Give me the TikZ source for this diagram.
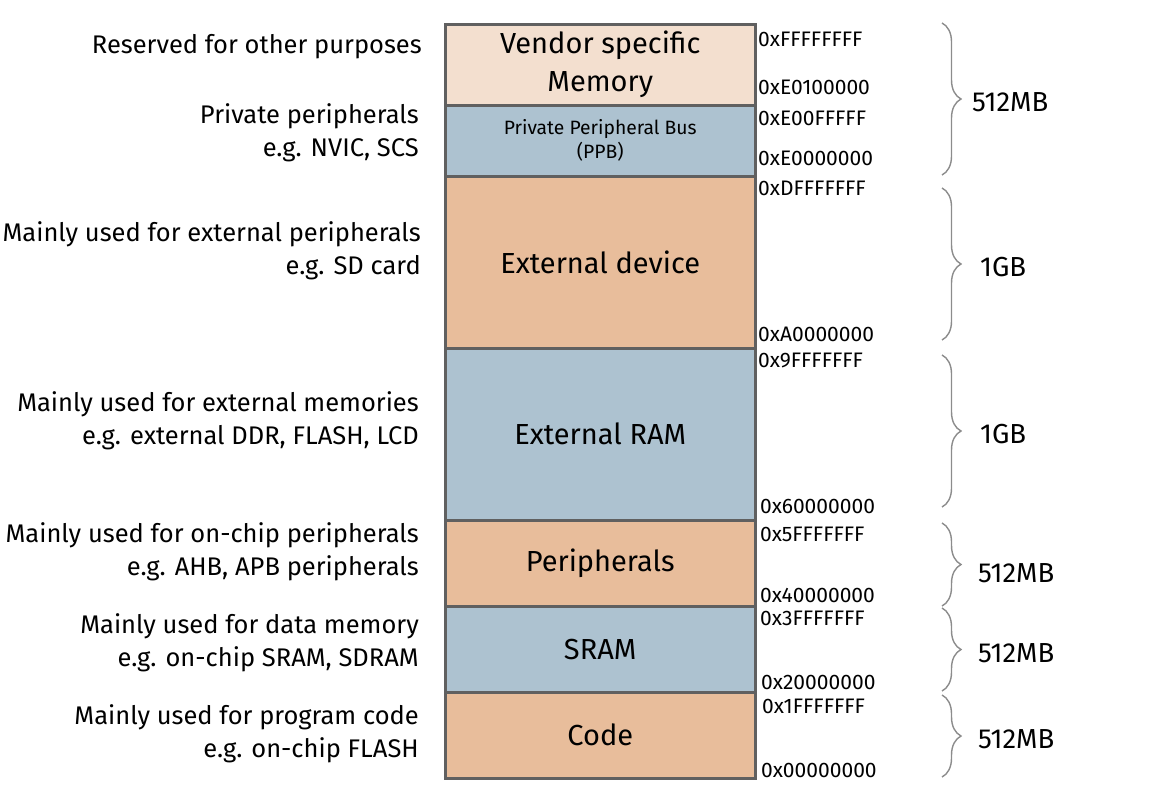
\documentclass[tikz,border=0pt]{standalone}
\usepackage{fontspec}
\setmainfont{Fira Sans}
\usetikzlibrary{decorations.pathreplacing}
\definecolor{peachL}{HTML}{F3DFCF}
\definecolor{peach}{HTML}{E8BD9B}
\definecolor{bluegray}{HTML}{ADC2D0}
\definecolor{border}{HTML}{606060}
\definecolor{bracec}{HTML}{8C8C8C}
\tikzset{
  blk/.style={draw=border, line width=2.5pt, minimum width=310pt, anchor=north west, align=center, inner sep=0pt, font=\fontsize{29}{38}\selectfont},
  addr/.style={anchor=west, inner sep=0pt, font=\fontsize{21}{24}\selectfont},
  desc/.style={anchor=east, align=right, inner sep=0pt, font=\fontsize{25.5}{33}\selectfont},
  sz/.style={anchor=west, inner sep=0pt, font=\fontsize{27.5}{30}\selectfont},
  brc/.style={draw=bracec, line width=1.4pt, decorate, decoration={brace, amplitude=19pt}},
}
\begin{document}
\begin{tikzpicture}[x=1pt,y=-1pt]
\useasboundingbox (0,0) rectangle (1155,809);
% blocks
\node[blk, fill=peachL, minimum height=81pt] (vendor) at (444,23) {Vendor specific\\Memory};
\node[blk, fill=bluegray, minimum height=71pt, font=\fontsize{19.3}{24}\selectfont] (ppb) at (444,104) {Private Peripheral Bus\\(PPB)};
\node[blk, fill=peach, minimum height=172pt] (extdev) at (444,175) {External device};
\node[blk, fill=bluegray, minimum height=172pt] (extram) at (444,347) {External RAM};
\node[blk, fill=peach, minimum height=86pt] (periph) at (444,519) {Peripherals};
\node[blk, fill=bluegray, minimum height=86pt] (sram) at (444,605) {SRAM};
\node[blk, fill=peach, minimum height=86pt] (code) at (444,691) {Code};
% addresses
\node[addr] (a1) at (758,39) {0xFFFFFFFF};
\node[addr] (a2) at (758,87) {0xE0100000};
\node[addr] (a3) at (758,118) {0xE00FFFFF};
\node[addr] (a4) at (758,158) {0xE0000000};
\node[addr] (a5) at (758,188) {0xDFFFFFFF};
\node[addr] (a6) at (758,334) {0xA0000000};
\node[addr] (a7) at (758,360) {0x9FFFFFFF};
\node[addr] (a8) at (760,506) {0x60000000};
\node[addr] (a9) at (760,534) {0x5FFFFFFF};
\node[addr] (a10) at (760,595) {0x40000000};
\node[addr] (a11) at (760,618) {0x3FFFFFFF};
\node[addr] (a12) at (761,682) {0x20000000};
\node[addr] (a13) at (762,706) {0x1FFFFFFF};
\node[addr] (a14) at (761,770) {0x00000000};
% descriptions
\node[desc] (d1) at (422,47) {Reserved for other purposes};
\node[desc] (d2) at (419,133) {Private peripherals\\e.g. NVIC, SCS};
\node[desc] (d3) at (421,251) {Mainly used for external peripherals\\e.g. SD card};
\node[desc] (d4) at (419,421) {Mainly used for external memories\\e.g. external DDR, FLASH, LCD};
\node[desc] (d5) at (419,552) {Mainly used for on-chip peripherals\\e.g. AHB, APB peripherals};
\node[desc] (d6) at (419,643) {Mainly used for data memory\\e.g. on-chip SRAM, SDRAM};
\node[desc] (d7) at (419,734) {Mainly used for program code\\e.g. on-chip FLASH};
% braces
\coordinate (b1t) at (942,23); \coordinate (b1b) at (942,175);
\coordinate (b2t) at (942,188); \coordinate (b2b) at (942,340);
\coordinate (b3t) at (942,355); \coordinate (b3b) at (942,507);
\coordinate (b4t) at (942,523); \coordinate (b4b) at (942,606);
\coordinate (b5t) at (942,608); \coordinate (b5b) at (942,691);
\coordinate (b6t) at (942,695); \coordinate (b6b) at (942,777);
\draw[brc] (b1t) -- (b1b);
\draw[brc] (b2t) -- (b2b);
\draw[brc] (b3t) -- (b3b);
\draw[brc] (b4t) -- (b4b);
\draw[brc] (b5t) -- (b5b);
\draw[brc] (b6t) -- (b6b);
\node[sz] (s1) at (972,102) {512MB};
\node[sz] (s2) at (980,267) {1GB};
\node[sz] (s3) at (980,434) {1GB};
\node[sz] (s4) at (978,573) {512MB};
\node[sz] (s5) at (978,653) {512MB};
\node[sz] (s6) at (978,739) {512MB};
\end{tikzpicture}
\end{document}
